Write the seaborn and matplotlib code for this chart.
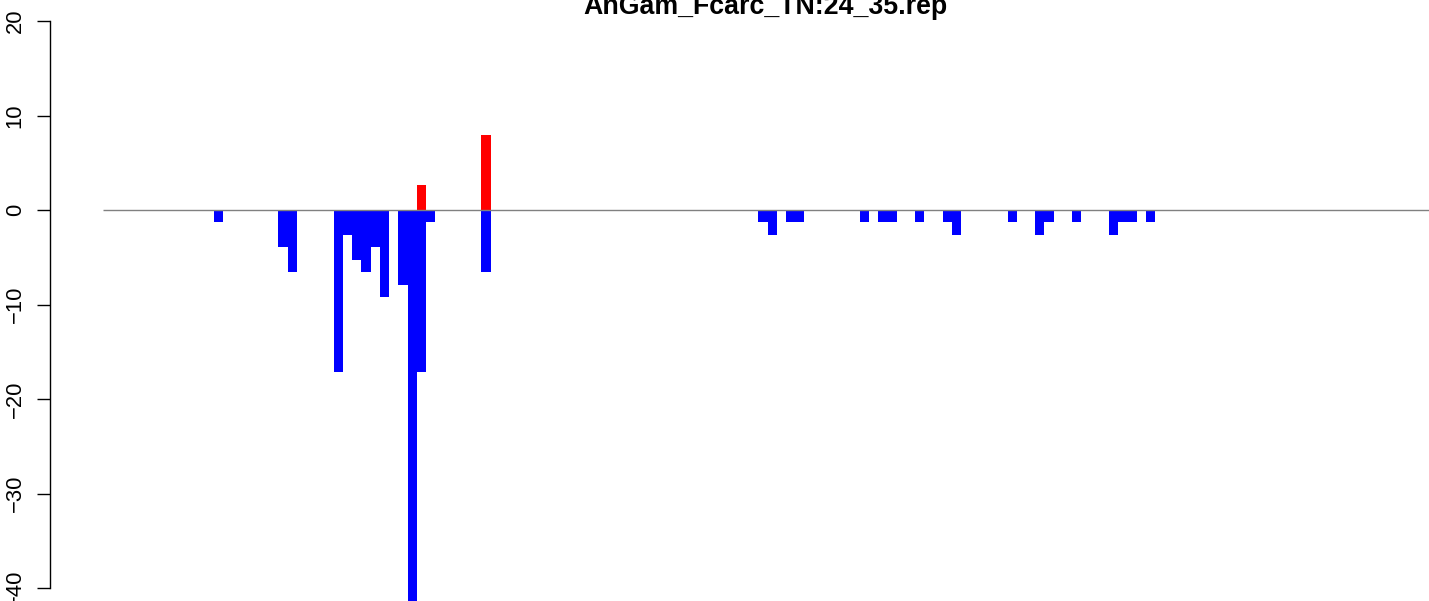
import pandas as pd
import matplotlib
matplotlib.use('Agg')
import matplotlib.pyplot as plt
import numpy as np
import seaborn as sns

title = 'AnGam_Fcarc_TN:24_35.rep'
n_bins = 144

# negative (blue) bars: bin index and value
neg_idx = [12, 19, 20, 25, 26, 27, 28, 29, 30, 32, 33, 34, 35, 41,
           71, 72, 74, 75, 82, 84, 85, 88, 91, 92, 98, 101, 102, 105,
           109, 110, 111, 113]
neg_val = [-1.32, -3.95, -6.58, -17.1, -2.63, -5.26, -6.58, -3.95, -9.21, -7.89, -42.1, -17.1, -1.32, -6.58,
           -1.32, -2.63, -1.32, -1.32, -1.32, -1.32, -1.32, -1.32, -1.32, -2.63, -1.32, -2.63, -1.32, -1.32,
           -2.63, -1.32, -1.32, -1.32]

# positive (red) bars
pos_idx = [34, 41]
pos_val = [2.63, 7.89]

yticks = [-40, -30, -20, -10, 0, 10, 20]

df = pd.DataFrame({'bin': np.arange(n_bins), 'neg': 0.0, 'pos': 0.0})
df.loc[neg_idx, 'neg'] = neg_val
df.loc[pos_idx, 'pos'] = pos_val

sns.set_theme(style='white')
plt.rcParams['font.family'] = ['Liberation Sans', 'DejaVu Sans']
plt.rcParams['text.color'] = 'black'

fig = plt.figure(figsize=(14.29, 6.01), dpi=100)
ax = fig.add_axes([50 / 1429, 0, 1379 / 1429, 1])

sns.barplot(data=df, x='bin', y='neg', color='#0000FF', saturation=1, width=1,
            linewidth=0, errorbar=None, ax=ax)
sns.barplot(data=df, x='bin', y='pos', color='#FF0000', saturation=1, width=1,
            linewidth=0, errorbar=None, ax=ax)

ax.hlines(0, -0.5, n_bins + 10, color='#808080', lw=1.0, zorder=5)

slot = 9.23
ax.set_xlim((50 - 103) / slot - 0.5, (1429 - 103) / slot - 0.5)
ax.set_ylim(-391 / 9.45, 210 / 9.45)

ax.set_xticks([])
ax.set_xlabel('')
ax.set_ylabel('')
ax.set_yticks(yticks)
ax.set_yticklabels([str(t).replace('-', '\u2212') for t in yticks],
                   rotation=90, va='center', fontsize=15.8)
ax.tick_params(axis='y', left=True, length=9.4, width=1.0, pad=8, colors='black')

for s in ['top', 'right', 'bottom']:
    ax.spines[s].set_visible(False)
ax.spines['left'].set_bounds(-40, 20)
ax.spines['left'].set_linewidth(1.0)
ax.spines['left'].set_color('black')

fig.text(765.5 / 1429, 1 - 14 / 601, title, ha='center', va='baseline',
         fontsize=19.3, fontweight='bold', color='black')

fig.savefig('out.png', dpi=100)
